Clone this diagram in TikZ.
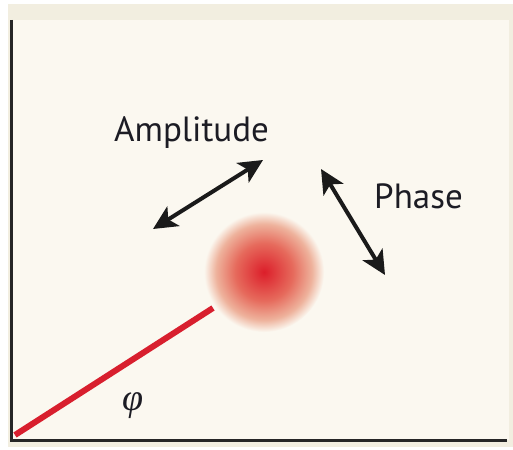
\documentclass[tikz,border=0pt]{standalone}
\usepackage{fontspec}
\setmainfont{PT Sans}
\newfontfamily\greekserif{Liberation Serif}
\usetikzlibrary{arrows.meta}
\definecolor{outerband}{HTML}{F2EEE0}
\definecolor{panel}{HTML}{FBF8F0}
\definecolor{axiscol}{HTML}{262626}
\definecolor{ballred}{HTML}{DC1E2A}
\definecolor{ballmid}{HTML}{E66A5C}
\definecolor{ballouter}{HTML}{EEB29C}
\definecolor{linered}{HTML}{D81F2E}
\definecolor{arrowcol}{HTML}{1A1A1A}
\definecolor{textcol}{HTML}{1C1C24}
\pgfdeclareradialshading{ballshade}{\pgfpoint{0bp}{0bp}}{color(0bp)=(ballred);color(12bp)=(ballmid);color(20bp)=(ballouter);color(25bp)=(panel);color(50bp)=(panel)}
\tikzset{
  label text/.style={font=\fontsize{35}{40}\selectfont, text=textcol, anchor=base, inner sep=0pt},
  twoway/.style={line width=4pt, draw=arrowcol, {Stealth[length=24pt,width=23pt,inset=6pt]}-{Stealth[length=24pt,width=23pt,inset=6pt]}},
  axisline/.style={line width=3pt, draw=axiscol},
}
\begin{document}
\begin{tikzpicture}[x=1pt,y=-1pt]
\useasboundingbox (0,0) rectangle (513,449);
\fill[white] (0,0) rectangle (513,449);
\fill[outerband] (8,4) rectangle (513,447);
\fill[panel] (12,20) rectangle (509,440);
% axes
\coordinate (top) at (11.5,20);
\coordinate (origin) at (11.5,440);
\coordinate (right) at (507,440);
\draw[axisline] (top) -- (origin) -- (right);
% ball
\shade[shading=ballshade] (264,272) circle (60);
\coordinate (ball) at (264,272);
% red line
\coordinate (lstart) at (15,435);
\coordinate (lend) at (213,308);
\draw[linered, line width=6pt] (lstart) -- (lend);
% labels
\node[label text] (amp) at (191.5,142) {Amplitude};
\node[label text] (phase) at (418.5,208) {Phase};
\node[inner sep=0pt, text=textcol, font=\greekserif\itshape\fontsize{38}{40}\selectfont] (phi) at (133,406) {φ};
% arrows
\coordinate (a1) at (153,229);
\coordinate (a2) at (263,160);
\coordinate (p1) at (321,169);
\coordinate (p2) at (385,275);
\draw[twoway] (a1) -- (a2);
\draw[twoway] (p1) -- (p2);
\end{tikzpicture}
\end{document}
